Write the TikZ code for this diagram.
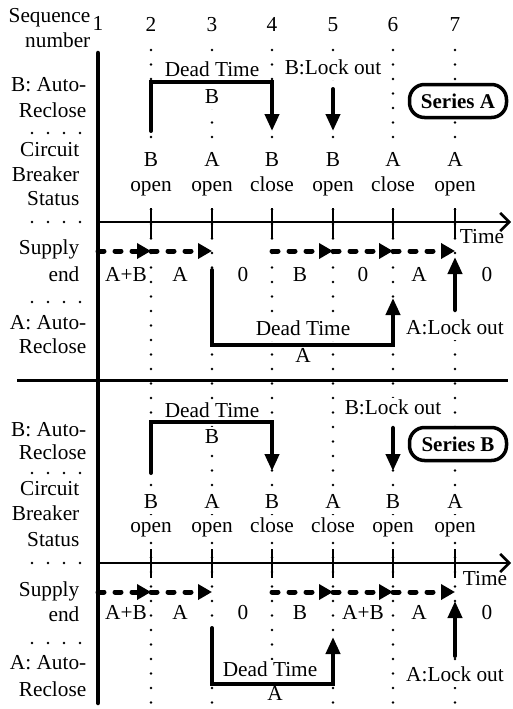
\documentclass[tikz,border=0pt]{standalone}
\usepackage{fontspec}
\setmainfont{Liberation Serif}
\usetikzlibrary{arrows.meta}
\begin{document}
\begin{tikzpicture}[x=1pt,y=-1pt,
  lbl/.style={font=\fontsize{21.3}{23}\selectfont, inner sep=1.5pt, text height=14.5pt, text depth=4pt, fill=white},
  rowlbl/.style={lbl, anchor=east},
  dotcol/.style={line width=2.6pt, line cap=round, dash pattern=on 0pt off 14.5pt},
  dotrow/.style={line width=2.6pt, line cap=round, dash pattern=on 0pt off 16pt},
  dtline/.style={line width=4pt, line cap=round, line join=miter},
  dtarrow/.style={dtline, -{Triangle[length=17pt,width=14pt]}},
  supply/.style={line width=5pt, line cap=round, dash pattern=on 6pt off 11pt, -{Triangle[length=14pt,width=15pt]}},
  tick/.style={line width=2.6pt},
  axis/.style={line width=2.6pt, -{Straight Barb[length=9pt,width=18pt,line width=2.6pt]}},
  seriesbox/.style={draw, line width=3.5pt, rounded corners=15pt, minimum width=97pt, minimum height=33pt, inner sep=0pt, fill=white, font=\bfseries\fontsize{21}{23}\selectfont}
]
\useasboundingbox (0,0) rectangle (513,709);

% column coordinates
\foreach \i/\x in {2/151,3/212,4/272,5/333,6/393,7/455}{
  \coordinate (ct\i) at (\x,50);
  \coordinate (cb\i) at (\x,709);
  \draw[dotcol] (ct\i) -- (cb\i);
}

% row dotted separators on the left
\foreach \n/\y in {r1/133,r2/222,r3/302,r4/473,r5/563,r6/643}{
  \coordinate (\n a) at (32,\y);
  \coordinate (\n b) at (80,\y);
  \draw[dotrow] (\n a) -- (\n b);
}

% header
\node[rowlbl] (seq) at (92,17) {Sequence};
\node[rowlbl] (num) at (92,42) {number};
\node[lbl] (n1) at (98,25) {1};
\foreach \i/\x in {2/151,3/212,4/272,5/333,6/393,7/455}{
  \node[lbl] (n\i) at (\x,26) {\i};
}

% ---------- Series A ----------
\node[rowlbl] (lAa1) at (88,86) {B: Auto-};
\node[rowlbl] (lAa2) at (88,112) {Reclose};
\node[rowlbl] (lAc1) at (81,151) {Circuit};
\node[rowlbl] (lAc2) at (81,176) {Breaker};
\node[rowlbl] (lAc3) at (81,200) {Status};
\node[rowlbl] (lAs1) at (81,249) {Supply};
\node[rowlbl] (lAs2) at (81,276) {end};
\node[rowlbl] (lAr1) at (88,324) {A: Auto-};
\node[rowlbl] (lAr2) at (88,348) {Reclose};

\node[lbl] (dtAB) at (212,71) {Dead Time};
\node[lbl] (dtABl) at (212,98) {B};
\node[lbl] (loAB) at (333,69) {B:Lock out};
\node[seriesbox] (serA) at (458,101) {Series A};

\foreach \i/\x/\l/\s in {2/151/B/open,3/212/A/open,4/272/B/close,5/333/B/open,6/393/A/close,7/455/A/open}{
  \node[lbl] (cbAl\i) at (\x,161) {\l};
  \node[lbl] (cbAs\i) at (\x,186) {\s};
}
\node[lbl] (timeA) at (482,238) {Time};
\foreach \n/\x/\t in {1/126/A+B,2/180/A,3/243/0,4/300/B,5/363/0,6/419/A,7/487/0}{
  \node[lbl] (svA\n) at (\x,276) {\t};
}
\node[lbl] (dtAA) at (303,330) {Dead Time};
\node[lbl] (dtAAl) at (303,357) {A};
\node[lbl] (loAA) at (455,329) {A:Lock out};

% ---------- Series B ----------
\node[rowlbl] (lBa1) at (88,431) {B: Auto-};
\node[rowlbl] (lBa2) at (88,454) {Reclose};
\node[rowlbl] (lBc1) at (81,490) {Circuit};
\node[rowlbl] (lBc2) at (81,515) {Breaker};
\node[rowlbl] (lBc3) at (81,541) {Status};
\node[rowlbl] (lBs1) at (81,591) {Supply};
\node[rowlbl] (lBs2) at (81,616) {end};
\node[rowlbl] (lBr1) at (88,664) {A: Auto-};
\node[rowlbl] (lBr2) at (88,691) {Reclose};

\node[lbl] (dtBB) at (212,412) {Dead Time};
\node[lbl] (dtBBl) at (212,438) {B};
\node[lbl] (loBB) at (393,409) {B:Lock out};
\node[seriesbox] (serB) at (458,444) {Series B};

\foreach \i/\x/\l/\s in {2/151/B/open,3/212/A/open,4/272/B/close,5/333/A/close,6/393/B/open,7/455/A/open}{
  \node[lbl] (cbBl\i) at (\x,503) {\l};
  \node[lbl] (cbBs\i) at (\x,527) {\s};
}
\node[lbl] (timeB) at (485,580) {Time};
\foreach \n/\x/\t in {1/126/A+B,2/180/A,3/243/0,4/300/B,5/363/A+B,6/419/A,7/487/0}{
  \node[lbl] (svB\n) at (\x,614) {\t};
}
\node[lbl] (dtBA) at (270,671) {Dead Time};
\node[lbl] (dtBAl) at (275,695) {A};
\node[lbl] (loBA) at (455,676) {A:Lock out};

% ---------- lines ----------
% main bar
\coordinate (bartop) at (98,53);
\coordinate (barbot) at (98,703);
\draw[line width=4.5pt, line cap=round] (bartop) -- (barbot);
% separator
\coordinate (sepL) at (17,380);
\coordinate (sepR) at (508,380);
\draw[line width=3pt] (sepL) -- (sepR);

% time axes
\coordinate (axAs) at (98,222);
\coordinate (axAe) at (511,222);
\draw[axis] (axAs) -- (axAe);
\coordinate (axBs) at (98,563);
\coordinate (axBe) at (511,563);
\draw[axis] (axBs) -- (axBe);
\foreach \i/\x in {2/151,3/212,4/272,5/333,6/393,7/455}{
  \coordinate (tkAt\i) at (\x,208);
  \coordinate (tkAb\i) at (\x,238);
  \draw[tick] (tkAt\i) -- (tkAb\i);
  \coordinate (tkBt\i) at (\x,549);
  \coordinate (tkBb\i) at (\x,578);
  \draw[tick] (tkBt\i) -- (tkBb\i);
}

% supply arrows
\foreach \s/\y in {A/251,B/592}{
  \coordinate (sp\s1) at (98,\y);
  \coordinate (sp\s2) at (151,\y);
  \coordinate (sp\s3) at (212,\y);
  \coordinate (sp\s4) at (272,\y);
  \coordinate (sp\s5) at (333,\y);
  \coordinate (sp\s6) at (393,\y);
  \coordinate (sp\s7) at (455,\y);
  \draw[supply] (sp\s1) -- (sp\s2);
  \draw[supply] (sp\s2) -- (sp\s3);
  \draw[supply] (sp\s4) -- (sp\s5);
  \draw[supply] (sp\s5) -- (sp\s6);
  \draw[supply] (sp\s6) -- (sp\s7);
}

% Series A: B dead time
\coordinate (dABs) at (151,131);
\coordinate (dABl) at (151,82);
\coordinate (dABr) at (272,82);
\coordinate (dABe) at (272,131);
\draw[dtarrow] (dABs) -- (dABl) -- (dABr) -- (dABe);
% B lock out
\coordinate (lABs) at (333,89);
\coordinate (lABe) at (333,131);
\draw[dtarrow] (lABs) -- (lABe);
% A dead time
\coordinate (dAAs) at (212,270);
\coordinate (dAAl) at (212,345);
\coordinate (dAAr) at (393,345);
\coordinate (dAAe) at (393,298);
\draw[dtarrow] (dAAs) -- (dAAl) -- (dAAr) -- (dAAe);
% A lock out
\coordinate (lAAs) at (455,310);
\coordinate (lAAe) at (455,257);
\draw[dtarrow] (lAAs) -- (lAAe);

% Series B: B dead time
\coordinate (dBBs) at (151,473);
\coordinate (dBBl) at (151,422);
\coordinate (dBBr) at (272,422);
\coordinate (dBBe) at (272,471);
\draw[dtarrow] (dBBs) -- (dBBl) -- (dBBr) -- (dBBe);
% B lock out
\coordinate (lBBs) at (393,428);
\coordinate (lBBe) at (393,471);
\draw[dtarrow] (lBBs) -- (lBBe);
% A dead time
\coordinate (dBAs) at (212,628);
\coordinate (dBAl) at (212,684);
\coordinate (dBAr) at (333,684);
\coordinate (dBAe) at (333,637);
\draw[dtarrow] (dBAs) -- (dBAl) -- (dBAr) -- (dBAe);
% A lock out
\coordinate (lBAs) at (455,656);
\coordinate (lBAe) at (455,601);
\draw[dtarrow] (lBAs) -- (lBAe);

\end{tikzpicture}
\end{document}
